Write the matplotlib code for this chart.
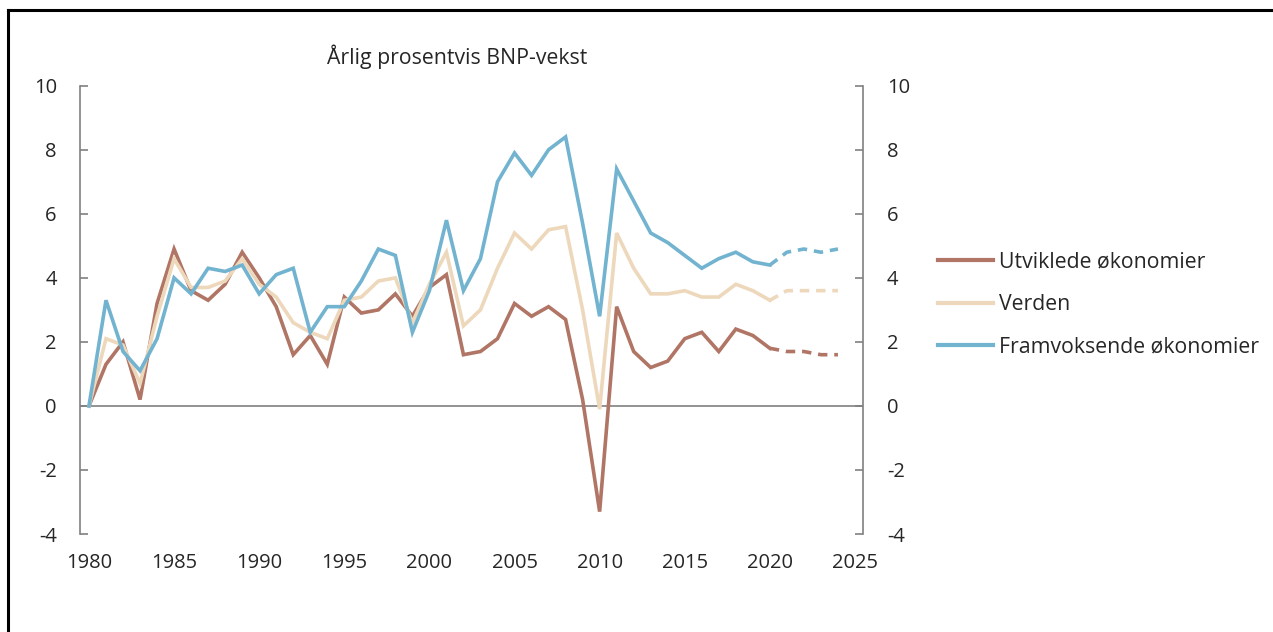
import matplotlib.pyplot as plt
from matplotlib.lines import Line2D


YEARS = list(range(1980, 2025))

UTVIKLEDE = [
    0.0, 1.3, 2.0, 0.2, 3.2, 4.9, 3.6, 3.3, 3.8, 4.8,
    4.0, 3.1, 1.6, 2.2, 1.3, 3.4, 2.9, 3.0, 3.5, 2.8,
    3.7, 4.1, 1.6, 1.7, 2.1, 3.2, 2.8, 3.1, 2.7, 0.2,
    -3.3, 3.1, 1.7, 1.2, 1.4, 2.1, 2.3, 1.7, 2.4, 2.2,
    1.8, 1.7, 1.7, 1.6, 1.6,
]

VERDEN = [
    0.0, 2.1, 1.9, 0.7, 2.8, 4.6, 3.7, 3.7, 3.9, 4.6,
    3.8, 3.4, 2.6, 2.3, 2.1, 3.3, 3.4, 3.9, 4.0, 2.6,
    3.8, 4.8, 2.5, 3.0, 4.3, 5.4, 4.9, 5.5, 5.6, 3.0,
    -0.1, 5.4, 4.3, 3.5, 3.5, 3.6, 3.4, 3.4, 3.8, 3.6,
    3.3, 3.6, 3.6, 3.6, 3.6,
]

FRAMVOKSENDE = [
    0.0, 3.3, 1.7, 1.1, 2.1, 4.0, 3.5, 4.3, 4.2, 4.4,
    3.5, 4.1, 4.3, 2.3, 3.1, 3.1, 3.9, 4.9, 4.7, 2.3,
    3.6, 5.8, 3.6, 4.6, 7.0, 7.9, 7.2, 8.0, 8.4, 5.7,
    2.8, 7.4, 6.4, 5.4, 5.1, 4.7, 4.3, 4.6, 4.8, 4.5,
    4.4, 4.8, 4.9, 4.8, 4.9,
]

SERIES_NAMES = ["Utviklede økonomier", "Verden", "Framvoksende økonomier"]
SERIES_COLORS = ["#B07565", "#EDD8BC", "#72B3D0"]

LAST_ACTUAL_YEAR = 2020
TITLE = "Årlig prosentvis BNP-vekst"
X_TICKS = list(range(1980, 2030, 5))
Y_TICKS = list(range(-4, 12, 2))

GRAY = "#808080"
TEXT_COLOR = "#262626"


def plot_series(ax, values, color):
    split = YEARS.index(LAST_ACTUAL_YEAR)
    ax.plot(YEARS[:split + 1], values[:split + 1], color=color, lw=2.6,
            solid_joinstyle="miter", zorder=3)
    ax.plot(YEARS[split:], values[split:], color=color, lw=2.6,
            dashes=(2.6, 1.9), zorder=3)


def main():
    plt.rcParams["font.family"] = ["Open Sans", "DejaVu Sans"]
    plt.rcParams["font.size"] = 14.5
    plt.rcParams["axes.unicode_minus"] = False

    fig = plt.figure(figsize=(12.73, 6.32), dpi=100)
    ax = fig.add_axes([0.0632, 0.155, 0.6151, 0.7094])

    for values, color in zip([UTVIKLEDE, VERDEN, FRAMVOKSENDE], SERIES_COLORS):
        plot_series(ax, values, color)

    ax.axhline(0, color=GRAY, lw=1.2, zorder=2)

    ax.set_xlim(1979.5, 2025.5)
    ax.set_ylim(-4, 10)
    ax.set_xticks(X_TICKS)
    ax.set_yticks(Y_TICKS)

    for side in ["top", "bottom"]:
        ax.spines[side].set_visible(False)
    for side in ["left", "right"]:
        ax.spines[side].set_color(GRAY)
        ax.spines[side].set_linewidth(1.2)

    ax.tick_params(axis="y", direction="in", length=6, width=1.2, color=GRAY,
                   left=True, right=True, labelleft=True, labelright=True,
                   pad=17, labelcolor=TEXT_COLOR)
    ax.tick_params(axis="x", length=0, pad=14, labelcolor=TEXT_COLOR)

    handles = [Line2D([], [], color=c, lw=3) for c in SERIES_COLORS]
    fig.legend(handles, SERIES_NAMES, loc="center left",
               bbox_to_anchor=(0.7305, 0.518), frameon=False,
               handlelength=2.55, handletextpad=0.3, labelspacing=1.0,
               fontsize=15.3, labelcolor=TEXT_COLOR, borderaxespad=0)

    fig.text(457 / 1273, 1 - 57 / 632, TITLE, ha="center", va="center",
             fontsize=15.3, color=TEXT_COLOR)

    # frame lines along the top and left edge of the picture
    fig.add_artist(Line2D([7.5 / 1273, 1], [1 - 10 / 632, 1 - 10 / 632],
                          transform=fig.transFigure, color="black", lw=2.2))
    fig.add_artist(Line2D([7.5 / 1273, 7.5 / 1273], [0, 1 - 10 / 632],
                          transform=fig.transFigure, color="black", lw=2.2))

    fig.savefig("out.png", dpi=100)
    plt.close(fig)


if __name__ == "__main__":
    main()
